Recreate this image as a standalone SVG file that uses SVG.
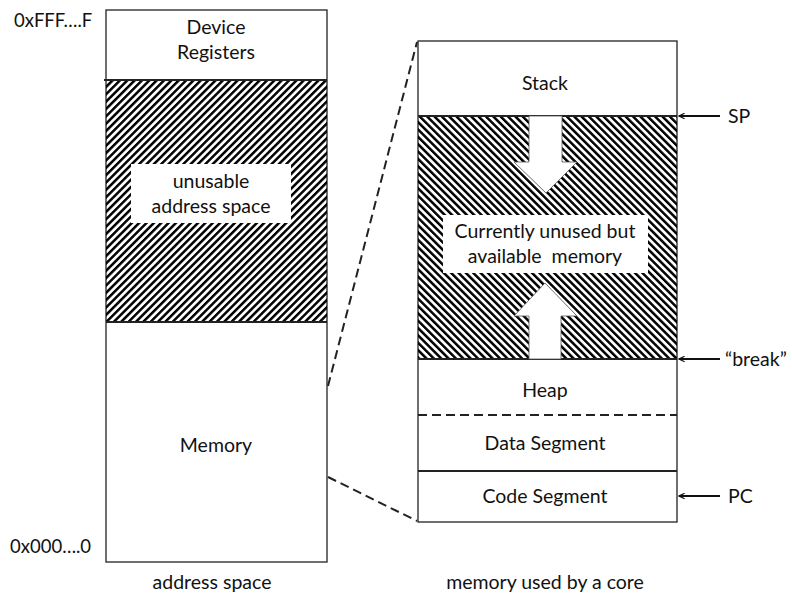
<svg xmlns="http://www.w3.org/2000/svg" width="792" height="596" viewBox="0 0 792 596">
<style>
  text { font-family: Lato, "Open Sans", "Liberation Sans", sans-serif; font-size: 19.5px; fill: #111; }
  .mid { text-anchor: middle; }
  .addr { font-size: 18.5px; }
  .box { fill: #fff; stroke: #222; stroke-width: 1.3; }
  .div { stroke: #222; stroke-width: 2; fill: none; }
  .dash { stroke: #222; stroke-width: 2; fill: none; stroke-dasharray: 9 5; }
  .ptr { stroke: #111; stroke-width: 2; fill: none; marker-end: url(#head); }
  .wht { fill: #fff; stroke: none; }
  .fat { fill: #fff; stroke: #555; stroke-width: 0.8; }
</style>
<defs>
  <pattern id="hatchF" patternUnits="userSpaceOnUse" width="5.2" height="5.2" patternTransform="rotate(45)">
    <rect x="0" y="0" width="2.5" height="5.2" fill="#000"/>
  </pattern>
  <pattern id="hatchB" patternUnits="userSpaceOnUse" width="5.2" height="5.2" patternTransform="rotate(-45)">
    <rect x="0" y="0" width="2.5" height="5.2" fill="#000"/>
  </pattern>
  <marker id="head" viewBox="0 0 10 10" refX="9" refY="5" markerWidth="7" markerHeight="7" orient="auto" markerUnits="userSpaceOnUse">
    <path d="M1,1 L9,5 L1,9" fill="none" stroke="#111" stroke-width="1.6"/>
  </marker>
</defs>

<!-- Left: address space -->
<g id="address-space">
  <rect class="box" x="106" y="10" width="221" height="552"/>
  <rect x="106" y="80" width="221" height="242" fill="url(#hatchF)"/>
  <line class="div" x1="104" y1="80" x2="327" y2="80"/>
  <line class="div" x1="106" y1="322" x2="327" y2="322" stroke="#888"/>
</g>
<g id="device-registers">
  <text class="mid" x="216" y="34">Device</text>
  <text class="mid" x="216" y="59">Registers</text>
</g>
<g id="unusable">
  <rect class="wht" x="131" y="164" width="160" height="59"/>
  <text class="mid" x="211" y="188">unusable</text>
  <text class="mid" x="211" y="213">address space</text>
</g>
<g id="memory">
  <text class="mid" x="216" y="452">Memory</text>
</g>
<g id="addr-labels">
  <text class="addr" x="14" y="27">0xFFF….F</text>
  <text class="addr" x="10" y="553">0x000….0</text>
  <text class="mid" x="212" y="589">address space</text>
</g>

<!-- Right: memory used by a core -->
<g id="core-memory">
  <rect class="box" x="418" y="41" width="259" height="481"/>
  <rect x="418" y="116" width="259" height="243" fill="url(#hatchB)"/>
  <line class="div" x1="418" y1="116" x2="677" y2="116"/>
  <line class="div" x1="418" y1="359" x2="677" y2="359"/>
  <line class="dash" x1="418" y1="415" x2="677" y2="415"/>
  <line class="div" x1="418" y1="471" x2="677" y2="471"/>
</g>
<g id="stack">
  <text class="mid" x="545" y="90">Stack</text>
  <path class="fat" d="M529,116 L529,162 L514,162 L546,193 L577,162 L562,162 L562,116 Z"/>
</g>
<g id="unused">
  <rect class="wht" x="443" y="215" width="205" height="58"/>
  <text class="mid" x="545" y="238">Currently unused but</text>
  <text class="mid" x="545" y="263" xml:space="preserve">available  memory</text>
  <path class="fat" d="M529,359 L529,316 L514,316 L545,283 L577,316 L561,316 L561,359 Z"/>
</g>
<g id="heap">
  <text class="mid" x="545" y="397">Heap</text>
</g>
<g id="data-segment">
  <text class="mid" x="545" y="450">Data Segment</text>
</g>
<g id="code-segment">
  <text class="mid" x="545" y="503">Code Segment</text>
</g>
<g id="core-label">
  <text class="mid" x="545" y="589">memory used by a core</text>
</g>
<g id="pointer-labels">
  <text x="728" y="123">SP</text>
  <text x="725" y="366">“break”</text>
  <text x="728" y="503">PC</text>
</g>

<g id="connectors">
  <line class="dash" x1="328" y1="386" x2="417" y2="42"/>
  <line class="dash" x1="328" y1="477" x2="417" y2="521"/>
  <line class="ptr" x1="720" y1="116" x2="679" y2="116"/>
  <line class="ptr" x1="720" y1="359" x2="679" y2="359"/>
  <line class="ptr" x1="720" y1="496" x2="679" y2="496"/>
</g>
</svg>
